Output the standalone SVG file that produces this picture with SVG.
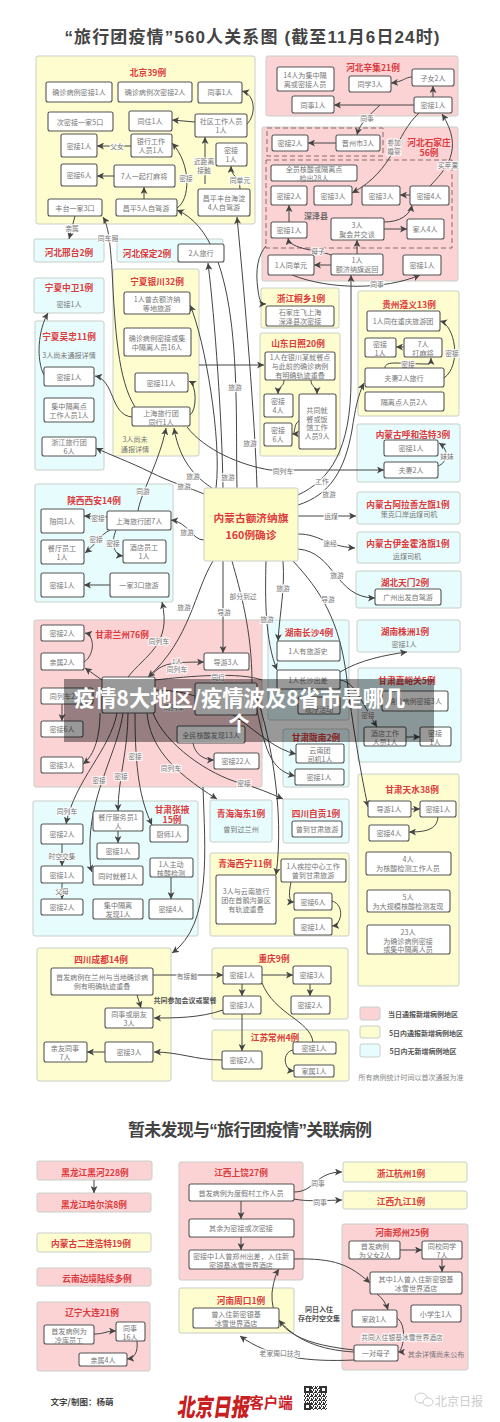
<svg xmlns="http://www.w3.org/2000/svg" width="500" height="1422" viewBox="0 0 500 1422">
<style>
text{font-family:"Noto Sans CJK SC","Noto Sans",sans-serif;text-anchor:middle;dominant-baseline:central}
.p{stroke:#c8cfc8;stroke-width:1;rx:2px}
.r{fill:#fcd3d5}.y{fill:#fdfdd0}.c{fill:#e6fcfd}
.h{font-size:8.7px;font-weight:700;fill:#dd3a3c}
.n{fill:#fff;stroke:#555;stroke-width:1.1;rx:2px}
.t{font-size:7.1px;fill:#777}
.e{fill:none;stroke:#444;stroke-width:1;marker-end:url(#a)}
.f{fill:none;stroke:#444;stroke-width:1}
.l{font-size:6.8px;fill:#777;paint-order:stroke;stroke:#fff;stroke-width:2px;stroke-opacity:.85}
.b{font-size:7px;font-weight:700;fill:#555}
.g{font-size:7px;fill:#888}
.d{fill:none;stroke:#8a6a6a;stroke-width:1;stroke-dasharray:5 3}
.m{font-family:"Liberation Sans","Noto Sans CJK SC",sans-serif;font-size:17px;font-weight:700;fill:#444}
</style>
<defs>
<marker id="a" markerUnits="userSpaceOnUse" markerWidth="7" markerHeight="7" viewBox="0 0 8 8" refX="8" refY="4" orient="auto"><path d="M0 0L8 4L0 8L2 4z" fill="#444"/></marker>
<pattern id="q" width="4" height="4" patternUnits="userSpaceOnUse"><path d="M0 0h1v1H0zM2 0h2v1H2zM1 1h1v2H1zM3 2h1v2H3zM0 3h1v1H0z" fill="#333"/></pattern>
</defs>
<rect width="500" height="1422" fill="#fff"/>
<text class="m" x="252" y="37" textLength="375" lengthAdjust="spacing">“旅行团疫情”560人关系图 (截至11月6日24时)</text>
<text class="m" x="250" y="1130" textLength="244" lengthAdjust="spacing">暂未发现与“旅行团疫情”关联病例</text>

<g id="panels">
<g id="p-bj"><rect class="p y" x="36" y="56" width="219" height="168"/><text class="h" x="148" y="72">北京39例</text></g>
<g id="p-xj"><rect class="p r" x="266" y="56" width="192" height="60"/><text class="h" x="373" y="67">河北辛集21例</text></g>
<g id="p-sjz"><rect class="p r" x="262" y="127" width="196" height="154"/><text class="h" x="429" y="142">河北石家庄</text><text class="h" x="429" y="152">56例</text><rect class="d" x="267" y="128" width="116" height="28"/><rect class="d" x="266" y="160" width="186" height="88"/><text x="316" y="215" font-size="8" font-weight="700" fill="#666">深泽县</text></g>
<g id="p-xt"><rect class="p c" x="34" y="239" width="70" height="23"/><text class="h" x="69" y="252">河北邢台2例</text></g>
<g id="p-bd"><rect class="p c" x="117" y="239" width="106" height="23"/><text class="h" x="147" y="253">河北保定2例</text></g>
<g id="p-zw"><rect class="p c" x="34" y="278" width="70" height="35"/><text class="h" x="69" y="287">宁夏中卫1例</text><text class="t" x="69" y="304">密接1人</text></g>
<g id="p-wz"><rect class="p c" x="35" y="321" width="69" height="149"/><text class="h" x="69" y="336">宁夏吴忠11例</text><text class="t" x="69" y="355">3人尚未通报详情</text></g>
<g id="p-yc"><rect class="p y" x="113" y="269" width="86" height="187"/><text class="h" x="157" y="281">宁夏银川32例</text><text class="t" x="135" y="439">3人尚未</text><text class="t" x="135" y="449">通报详情</text></g>
<g id="p-tx"><rect class="p y" x="261" y="288" width="78" height="40"/><text class="h" x="301" y="298">浙江桐乡1例</text></g>
<g id="p-rz"><rect class="p y" x="260" y="333" width="80" height="123"/><text class="h" x="298" y="343">山东日照20例</text></g>
<g id="p-zy"><rect class="p y" x="358" y="291" width="101" height="125"/><text class="h" x="409" y="304">贵州遵义13例</text></g>
<g id="p-hh"><rect class="p c" x="357" y="424" width="103" height="58"/><text class="h" x="413" y="434">内蒙古呼和浩特3例</text></g>
<g id="p-alsz"><rect class="p c" x="357" y="492" width="103" height="32"/><text class="h" x="408" y="504">内蒙古阿拉善左旗1例</text><text class="t" x="409" y="514">策克口岸运煤司机</text></g>
<g id="p-yjhl"><rect class="p c" x="357" y="532" width="103" height="31"/><text class="h" x="408" y="543">内蒙古伊金霍洛旗1例</text><text class="t" x="407" y="556">运煤司机</text></g>
<g id="p-tm"><rect class="p c" x="356" y="571" width="105" height="37"/><text class="h" x="405" y="582">湖北天门2例</text></g>
<g id="p-zz"><rect class="p c" x="357" y="620" width="103" height="32"/><text class="h" x="405" y="631">湖南株洲1例</text><text class="t" x="404" y="644">密接1人</text></g>
<g id="p-xa"><rect class="p c" x="35" y="484" width="138" height="118"/><text class="h" x="94" y="500">陕西西安14例</text></g>
<g id="p-lz"><rect class="p r" x="34" y="620" width="228" height="167"/><text class="h" x="122" y="634">甘肃兰州76例</text></g>
<g id="p-cs"><rect class="p c" x="268" y="620" width="81" height="100"/><text class="h" x="309" y="632">湖南长沙4例</text></g>
<g id="p-jyg"><rect class="p c" x="358" y="668" width="103" height="94"/><text class="h" x="407" y="680">甘肃嘉峪关5例</text></g>
<g id="p-ln"><rect class="p c" x="283" y="729" width="66" height="58"/><text class="h" x="316" y="737">甘肃陇南2例</text></g>
<g id="p-zg"><rect class="p c" x="283" y="799" width="66" height="44"/><text class="h" x="316" y="813">四川自贡1例</text></g>
<g id="p-ts"><rect class="p y" x="358" y="774" width="101" height="212"/><text class="h" x="412" y="789">甘肃天水38例</text></g>
<g id="p-xn"><rect class="p y" x="210" y="853" width="139" height="83"/><text class="h" x="245" y="863">青海西宁11例</text></g>
<g id="p-hd"><rect class="p c" x="210" y="800" width="62" height="42"/><text class="h" x="241" y="813">青海海东1例</text><text class="t" x="241" y="829">曾到过兰州</text></g>
<g id="p-zhy"><rect class="p c" x="33" y="801" width="165" height="135"/><text class="h" x="172" y="809">甘肃张掖</text><text class="h" x="172" y="819">15例</text></g>
<g id="p-cd"><rect class="p y" x="37" y="948" width="134" height="133"/><text class="h" x="101" y="959">四川成都14例</text></g>
<g id="p-cq"><rect class="p y" x="212" y="948" width="136" height="71"/><text class="h" x="274" y="958">重庆9例</text></g>
<g id="p-cz"><rect class="p y" x="212" y="1030" width="137" height="51"/><text class="h" x="275" y="1037">江苏常州4例</text></g>
<g id="p-hhe"><rect class="p r" x="37" y="1161" width="115" height="19"/><text class="h" x="95" y="1172">黑龙江黑河228例</text></g>
<g id="p-heb"><rect class="p r" x="37" y="1193" width="114" height="19"/><text class="h" x="94" y="1204">黑龙江哈尔滨8例</text></g>
<g id="p-el"><rect class="p y" x="37" y="1233" width="114" height="19"/><text class="h" x="91" y="1243">内蒙古二连浩特19例</text></g>
<g id="p-yn"><rect class="p r" x="37" y="1268" width="114" height="18"/><text class="h" x="97" y="1278">云南边境陆续多例</text></g>
<g id="p-dl"><rect class="p r" x="37" y="1302" width="113" height="69"/><text class="h" x="92" y="1312">辽宁大连21例</text></g>
<g id="p-sr"><rect class="p r" x="179" y="1162" width="124" height="118"/><text class="h" x="241" y="1172">江西上饶27例</text></g>
<g id="p-zk"><rect class="p y" x="179" y="1288" width="115" height="45"/><text class="h" x="241" y="1300">河南周口1例</text></g>
<g id="p-hz"><rect class="p y" x="343" y="1162" width="124" height="20"/><text class="h" x="401" y="1173">浙江杭州1例</text></g>
<g id="p-jj"><rect class="p y" x="343" y="1191" width="124" height="18"/><text class="h" x="401" y="1201">江西九江1例</text></g>
<g id="p-zhz"><rect class="p r" x="342" y="1224" width="126" height="146"/><text class="h" x="402" y="1232">河南郑州25例</text></g>
</g>

<g id="connectors">
<path class="e" d="M195 122L172 120"/><path class="e" d="M247 124C256 115,256 95,242 91"/><path class="e" d="M131 146H97"/><path class="e" d="M114 176H97"/><path class="e" d="M144 199V187"/><path class="e" d="M177 208C190 200,192 165,172 143"/><path class="e" d="M205 184V137"/><path class="e" d="M240 189C240 175,231 178,231 166"/><path class="e" d="M75 216L69 239"/>
<path class="e" d="M135 407C118 380,115 330,112 270C110 240,108 225,103 217"/>
<path class="e" d="M223 488C222 420,215 320,208 263"/>
<path class="e" d="M237 488C235 400,245 240,177 210"/>
<path class="e" d="M257 488C255 420,245 300,237 217"/>
<path class="e" d="M266 246C258 255,255 270,258 290C259 298,260 304,266 304"/>
<path class="e" d="M199 365H264"/>
<path class="e" d="M216 488C222 440,205 340,190 305"/>
<path class="e" d="M138 511C140 495,160 460,166 428"/>
<path class="e" d="M212 488C200 480,180 465,174 428"/>
<path class="e" d="M190 415C197 410,197 385,189 381"/>
<path class="e" d="M132 417C110 415,115 380,95 376"/>
<path class="e" d="M44 375C36 360,38 330,48 313"/>
<path class="e" d="M204 494C190 488,170 482,150 472C130 462,110 455,96 448"/>
<path class="e" d="M187 427C205 450,240 465,270 470H384"/>
<path class="e" d="M298 495C330 480,351 450,351 380V275"/>
<path class="e" d="M298 505C330 495,345 470,352 430C355 410,358 395,364 383"/>
<path class="e" d="M298 516H356"/>
<path class="e" d="M298 534C320 534,325 546,355 548"/>
<path class="e" d="M298 549C335 552,335 598,375 598"/>
<path class="e" d="M293 561C320 590,340 620,347 680C352 720,360 770,368 807"/>
<path class="e" d="M283 561C285 590,280 610,278 641"/>
<path class="e" d="M266 561C265 600,265 640,277 670"/>
<path class="f" d="M232 561C240 590,252 630,252 683"/>
<path class="e" d="M223 561V653"/>
<path class="e" d="M213 561C195 590,190 640,148 677"/>
<path class="e" d="M128 677C145 655,172 645,162 602"/>
<path class="e" d="M204 540C192 540,188 522,171 520"/>
<path class="e" d="M150 677C160 665,165 662,204 662"/>
<path class="e" d="M84 662C95 655,95 635,85 633"/>
<path class="e" d="M102 680L85 668"/>
<path class="f" d="M155 680C190 676,240 672,262 680"/>
<path class="e" d="M340 672C360 660,385 655,407 652"/>
<path class="e" d="M340 680C355 682,360 700,377 727"/>
<path class="e" d="M406 737H420"/>
<path class="e" d="M100 713C100 735,95 755,83 764"/>
<path class="e" d="M117 713C110 750,75 780,66 824"/>
<path class="e" d="M123 713C118 750,92 790,90 840C90 860,90 866,92 872"/>
<path class="e" d="M128 713C128 750,118 780,118 811"/>
<path class="e" d="M135 713C135 770,140 800,152 825"/>
<path class="e" d="M147 713C150 745,170 770,217 799"/>
<path class="e" d="M153 713C165 745,210 775,240 783C255 787,270 793,283 799"/>
<path class="e" d="M203 787C205 850,212 925,172 953"/>
<path class="e" d="M193 743C195 755,205 760,214 760"/>
<path class="e" d="M62 704V721"/>
<path class="e" d="M155 690C230 690,255 745,296 754"/>
<path class="e" d="M255 700C265 750,270 770,295 776"/>
<path class="e" d="M252 683C270 730,285 810,276 875"/>
<path class="e" d="M107 517L84 516"/><path class="e" d="M110 530C100 535,95 545,85 553"/><path class="e" d="M116 530C110 545,115 555,123 556"/><path class="e" d="M110 585H84"/>
<path class="e" d="M62 844V866"/><path class="e" d="M62 883V899"/><path class="e" d="M118 831V843"/><path class="e" d="M171 877V899"/>
<path class="e" d="M291 882C289 892,288 902,294 902"/><path class="e" d="M332 901C345 905,342 925,332 926"/>
<path class="e" d="M411 809H420"/><path class="e" d="M438 817C437 830,425 832,409 832"/>
<path class="e" d="M444 378C462 365,455 325,440 321"/><path class="e" d="M404 347H396"/><path class="e" d="M385 368C385 360,400 364,428 364Q431 364,431 358"/>
<path class="e" d="M438 466C447 463,450 450,439 443"/>
<path class="e" d="M284 380C284 388,278 385,278 394"/><path class="e" d="M311 380C311 388,317 385,317 394"/><path class="e" d="M299 421C293 424,296 434,292 434"/>
<path class="e" d="M414 105H334"/><path class="e" d="M433 97V86"/><path class="e" d="M412 77C405 77,403 82,391 83"/>
<path class="e" d="M380 105C370 115,360 122,357 135"/><path class="e" d="M419 113C395 135,395 170,352 193"/><path class="e" d="M336 143H308"/>
<path class="e" d="M430 186C445 170,465 150,442 114"/><path class="e" d="M410 195H400"/><path class="e" d="M384 222C400 222,410 215,412 205"/><path class="e" d="M384 229H407"/>
<path class="e" d="M357 254V240"/><path class="e" d="M331 265H314"/><path class="e" d="M331 255C320 250,290 250,288 238"/><path class="e" d="M289 222V205"/><path class="e" d="M292 275C330 290,385 290,420 275"/>
<path class="e" d="M262 975H293"/><path class="e" d="M242 984V996"/><path class="e" d="M310 984V996"/><path class="e" d="M153 975H223"/><path class="e" d="M137 995L141 1008"/><path class="e" d="M223 1010C200 1018,175 1018,154 1018"/><path class="e" d="M242 1014V1051"/><path class="e" d="M222 1060C195 1060,180 1052,154 1052"/><path class="e" d="M105 1052H87"/><path class="f" d="M262 983C275 1015,310 1020,313 1042"/><path class="e" d="M293 1050C282 1052,283 1070,294 1071"/>
<path class="e" d="M94 1180V1193"/><path class="e" d="M94 1334C105 1334,105 1331,116 1331"/><path class="e" d="M137 1341C138 1352,135 1358,127 1359"/>
<path class="e" d="M241 1201V1219"/><path class="e" d="M241 1237V1250"/><path class="e" d="M294 1192C315 1192,315 1172,342 1172"/><path class="e" d="M294 1199C305 1201,310 1201,342 1200"/><path class="e" d="M294 1259C335 1258,350 1265,370 1283"/>
<path class="e" d="M400 1250H422"/><path class="e" d="M442 1259V1272"/><path class="e" d="M377 1294Q385 1300,388 1310"/><path class="e" d="M397 1318C408 1325,403 1352,398 1352"/><path class="e" d="M354 1352C320 1350,295 1340,279 1320"/><path class="e" d="M354 1360C310 1362,270 1358,240 1336"/><path class="e" d="M354 1350C310 1345,270 1335,272 1293C273 1285,275 1275,279 1269"/>
<g id="edge-labels">
<text class="l" x="117" y="146">父女</text><text class="l" x="186" y="178">密接</text><text class="l" x="204" y="161">近距离</text><text class="l" x="204" y="170">接触</text><text class="l" x="240" y="180">同单元</text><text class="l" x="72" y="228">亲属</text><text class="l" x="108" y="238">同车厢</text>
<text class="l" x="228" y="477">旅游</text><text class="l" x="235" y="387">旅游</text><text class="l" x="250" y="443">旅游</text><text class="l" x="193" y="476">旅游</text><text class="l" x="143" y="491">同游</text><text class="l" x="184" y="486">旅游</text><text class="l" x="187" y="532">旅游</text><text class="l" x="283" y="471">同列车</text><text class="l" x="322" y="481">工作</text><text class="l" x="329" y="494">旅游</text><text class="l" x="331" y="516">运煤</text><text class="l" x="330" y="543">途经</text><text class="l" x="337" y="575">旅游</text><text class="l" x="328" y="599">导游</text><text class="l" x="283" y="588">旅游</text><text class="l" x="267" y="619">旅游</text><text class="l" x="243" y="596">部分到过</text><text class="l" x="224" y="612">导游</text><text class="l" x="184" y="607">旅游</text><text class="l" x="159" y="641">同列车</text><text class="l" x="177" y="661">1人</text><text class="l" x="177" y="669">同列车</text><text class="l" x="218" y="677">同行</text><text class="l" x="174" y="707">同列车</text><text class="l" x="368" y="715">密接</text>
<text class="l" x="98" y="518">密接</text><text class="l" x="96" y="539">密接</text><text class="l" x="113" y="543">密接</text>
<text class="l" x="67" y="811">同列车</text><text class="l" x="99" y="780">密接</text><text class="l" x="121" y="776">密接</text><text class="l" x="135" y="756">密接</text><text class="l" x="171" y="768">同列车</text><text class="l" x="244" y="783">密接</text><text class="l" x="62" y="856">时空交集</text><text class="l" x="62" y="891">父母</text>
<text class="l" x="452" y="353">密接</text><text class="l" x="408" y="364">密接</text><text class="l" x="447" y="456">妹妹</text>
<text class="l" x="367" y="118">同事</text><text class="l" x="394" y="142">参加</text><text class="l" x="394" y="151">婚宴</text><text class="l" x="448" y="165">买苹果</text><text class="l" x="318" y="251">母子</text><text class="l" x="377" y="284">同事</text>
<text class="l" x="187" y="976">有接触</text><text class="b" x="185" y="1000">共同参加会议或聚餐</text>
<text class="l" x="318" y="1183">同事</text><text class="l" x="320" y="1202">同事</text><text class="l" x="280" y="1353">老家周口扶沟</text><text class="b" x="319" y="1309">同日入住</text><text class="b" x="319" y="1318">存在时空交集</text><text class="l" x="402" y="1337">共同入住银基冰雪世界酒店</text><text class="t" x="436" y="1354">其余详情尚未公布</text>
</g>
</g>

<g id="nodes">
<g id="n1"><rect class="n" x="46" y="82" width="66" height="20"/><text class="t" x="79" y="92">确诊病例密接1人</text></g>
<g id="n2"><rect class="n" x="118" y="82" width="74" height="20"/><text class="t" x="155" y="92">确诊病例次密接2人</text></g>
<g id="n3"><rect class="n" x="198" y="82" width="44" height="21"/><text class="t" x="220" y="92">同事1人</text></g>
<g id="n4"><rect class="n" x="48" y="112" width="65" height="19"/><text class="t" x="80" y="122">次密接一家5口</text></g>
<g id="n5"><rect class="n" x="129" y="111" width="43" height="20"/><text class="t" x="150" y="121">同住1人</text></g>
<g id="n6"><rect class="n" x="195" y="114" width="52" height="23"/><text class="t" x="221" y="121">社区工作人员<tspan x="221" dy="9">1人</tspan></text></g>
<g id="n7"><rect class="n" x="61" y="134" width="36" height="23"/><text class="t" x="79" y="146">密接1人</text></g>
<g id="n8"><rect class="n" x="131" y="134" width="41" height="23"/><text class="t" x="151" y="141">银行工作<tspan x="151" dy="9">人员1人</tspan></text></g>
<g id="n9"><rect class="n" x="216" y="143" width="31" height="23"/><text class="t" x="231" y="150">密接<tspan x="231" dy="9">1人</tspan></text></g>
<g id="n10"><rect class="n" x="61" y="164" width="36" height="22"/><text class="t" x="79" y="175">密接6人</text></g>
<g id="n11"><rect class="n" x="114" y="165" width="61" height="22"/><text class="t" x="144" y="176">7人一起打麻将</text></g>
<g id="n12"><rect class="n" x="48" y="199" width="54" height="17"/><text class="t" x="75" y="208">丰台一家3口</text></g>
<g id="n13"><rect class="n" x="116" y="199" width="61" height="17"/><text class="t" x="146" y="208">昌平5人自驾游</text></g>
<g id="n14"><rect class="n" x="198" y="189" width="52" height="27"/><text class="t" x="224" y="198">昌平丰台海淀<tspan x="224" dy="9">4人自驾游</tspan></text></g>
<g id="n15"><rect class="n" x="178" y="244" width="46" height="18"/><text class="t" x="201" y="253">2人旅行</text></g>
<g id="n16"><rect class="n" x="277" y="67" width="57" height="24"/><text class="t" x="305" y="75">14人为集中隔<tspan x="305" dy="9">离或密接人员</tspan></text></g>
<g id="n17"><rect class="n" x="349" y="76" width="42" height="16"/><text class="t" x="370" y="84">同学3人</text></g>
<g id="n18"><rect class="n" x="412" y="69" width="42" height="17"/><text class="t" x="433" y="78">子女2人</text></g>
<g id="n19"><rect class="n" x="292" y="96" width="42" height="17"/><text class="t" x="313" y="105">同事1人</text></g>
<g id="n20"><rect class="n" x="414" y="97" width="38" height="16"/><text class="t" x="433" y="105">密接1人</text></g>
<g id="n21"><rect class="n" x="272" y="135" width="36" height="16"/><text class="t" x="290" y="143">密接2人</text></g>
<g id="n22"><rect class="n" x="336" y="135" width="44" height="16"/><text class="t" x="358" y="143">晋州市3人</text></g>
<g id="n23"><rect class="n" x="271" y="165" width="86" height="16"/><text class="t" x="314" y="169">全员核酸或隔离点<tspan x="314" dy="9">检出28人</tspan></text></g>
<g id="n24"><rect class="n" x="271" y="186" width="36" height="19"/><text class="t" x="289" y="196">密接2人</text></g>
<g id="n25"><rect class="n" x="314" y="186" width="38" height="19"/><text class="t" x="333" y="196">密接3人</text></g>
<g id="n26"><rect class="n" x="362" y="186" width="38" height="19"/><text class="t" x="381" y="196">密接3人</text></g>
<g id="n27"><rect class="n" x="410" y="186" width="39" height="19"/><text class="t" x="429" y="196">密接4人</text></g>
<g id="n28"><rect class="n" x="271" y="222" width="36" height="16"/><text class="t" x="289" y="230">密接1人</text></g>
<g id="n29"><rect class="n" x="331" y="218" width="53" height="22"/><text class="t" x="357" y="225">3人<tspan x="357" dy="9">聚会并交谈</tspan></text></g>
<g id="n30"><rect class="n" x="407" y="219" width="37" height="20"/><text class="t" x="425" y="229">家人4人</text></g>
<g id="n31"><rect class="n" x="268" y="255" width="46" height="20"/><text class="t" x="291" y="265">1人同单元</text></g>
<g id="n32"><rect class="n" x="331" y="254" width="52" height="21"/><text class="t" x="357" y="260">1人<tspan x="357" dy="9">额济纳旗返回</tspan></text></g>
<g id="n33"><rect class="n" x="403" y="255" width="38" height="20"/><text class="t" x="422" y="265">密接1人</text></g>
<g id="n34"><rect class="n" x="44" y="367" width="50" height="19"/><text class="t" x="69" y="377">密接1人</text></g>
<g id="n35"><rect class="n" x="44" y="398" width="50" height="24"/><text class="t" x="69" y="406">集中隔离点<tspan x="69" dy="9">工作人员1人</tspan></text></g>
<g id="n36"><rect class="n" x="42" y="437" width="54" height="19"/><text class="t" x="69" y="442">浙江旅行团<tspan x="69" dy="9">6人</tspan></text></g>
<g id="n37"><rect class="n" x="124" y="292" width="66" height="22"/><text class="t" x="157" y="299">1人曾去额济纳<tspan x="157" dy="9">等地旅游</tspan></text></g>
<g id="n38"><rect class="n" x="124" y="328" width="67" height="28"/><text class="t" x="157" y="338">确诊病例密接或集<tspan x="157" dy="9">中隔离人员16人</tspan></text></g>
<g id="n39"><rect class="n" x="135" y="373" width="53" height="19"/><text class="t" x="161" y="383">密接11人</text></g>
<g id="n40"><rect class="n" x="132" y="407" width="58" height="19"/><text class="t" x="161" y="413">上海旅行团<tspan x="161" dy="9">同行1人</tspan></text></g>
<g id="n41"><rect class="n" x="266" y="306" width="68" height="20"/><text class="t" x="300" y="312">石家庄飞上海<tspan x="300" dy="9">深泽县次密接</tspan></text></g>
<g id="n42"><rect class="n" x="265" y="352" width="70" height="28"/><text class="t" x="300" y="357">1人在银川某就餐点<tspan x="300" dy="9">与此前的确诊病例</tspan><tspan x="300" dy="9">有明确轨迹重叠</tspan></text></g>
<g id="n43"><rect class="n" x="264" y="394" width="29" height="23"/><text class="t" x="278" y="401">密接<tspan x="278" dy="9">4人</tspan></text></g>
<g id="n44"><rect class="n" x="299" y="394" width="37" height="55"/><text class="t" x="317" y="410">共同就<tspan x="317" dy="8.5">餐或饭</tspan><tspan x="317" dy="8.5">馆工作</tspan><tspan x="317" dy="8.5">人员9人</tspan></text></g>
<g id="n45"><rect class="n" x="264" y="423" width="28" height="23"/><text class="t" x="278" y="430">密接<tspan x="278" dy="9">6人</tspan></text></g>
<g id="n46"><rect class="n" x="367" y="311" width="73" height="20"/><text class="t" x="403" y="321">1人同在重庆旅游团</text></g>
<g id="n47"><rect class="n" x="365" y="338" width="31" height="19"/><text class="t" x="380" y="344">密接<tspan x="380" dy="9">1人</tspan></text></g>
<g id="n48"><rect class="n" x="404" y="338" width="38" height="19"/><text class="t" x="423" y="344">7人<tspan x="423" dy="9">打麻将</tspan></text></g>
<g id="n49"><rect class="n" x="365" y="368" width="79" height="19"/><text class="t" x="404" y="378">夫妻2人旅行</text></g>
<g id="n50"><rect class="n" x="365" y="392" width="79" height="19"/><text class="t" x="404" y="402">隔离点人员2人</text></g>
<g id="n51"><rect class="n" x="384" y="440" width="54" height="16"/><text class="t" x="411" y="448">密接1人</text></g>
<g id="n52"><rect class="n" x="384" y="462" width="54" height="16"/><text class="t" x="411" y="470">夫妻2人</text></g>
<g id="n53"><rect class="n" x="375" y="589" width="66" height="16"/><text class="t" x="408" y="597">广州出发自驾游</text></g>
<g id="n54"><rect class="n" x="41" y="509" width="43" height="24"/><text class="t" x="62" y="521">陪同1人</text></g>
<g id="n55"><rect class="n" x="107" y="511" width="64" height="19"/><text class="t" x="139" y="521">上海旅行团7人</text></g>
<g id="n56"><rect class="n" x="41" y="540" width="43" height="24"/><text class="t" x="62" y="548">餐厅员工<tspan x="62" dy="9">1人</tspan></text></g>
<g id="n57"><rect class="n" x="123" y="540" width="43" height="23"/><text class="t" x="144" y="547">酒店员工<tspan x="144" dy="9">1人</tspan></text></g>
<g id="n58"><rect class="n" x="41" y="573" width="43" height="24"/><text class="t" x="62" y="585">密接1人</text></g>
<g id="n59"><rect class="n" x="110" y="573" width="59" height="24"/><text class="t" x="139" y="585">一家3口旅游</text></g>
<g id="n60"><rect x="204" y="488" width="94" height="73" fill="#fdfdc8" stroke="#c8cfc8" rx="2"/><text x="251" y="517" font-size="10.7" font-weight="700" fill="#dd3a3c">内蒙古额济纳旗</text><text x="251" y="534" font-size="10.7" font-weight="700" fill="#dd3a3c">160例确诊</text></g>
<g id="n61"><rect class="n" x="41" y="625" width="43" height="16"/><text class="t" x="62" y="633">密接2人</text></g>
<g id="n62"><rect class="n" x="41" y="653" width="43" height="17"/><text class="t" x="62" y="662">亲属2人</text></g>
<g id="n63"><rect class="n" x="204" y="653" width="45" height="17"/><text class="t" x="226" y="662">导游3人</text></g>
<g id="n64"><rect class="n" x="102" y="677" width="53" height="36"/></g>
<g id="n65"><rect class="n" x="41" y="688" width="52" height="16"/><text class="t" x="66" y="696">同列车2人</text></g>
<g id="n66"><rect class="n" x="41" y="721" width="42" height="16"/><text class="t" x="62" y="729">密接6人</text></g>
<g id="n67"><rect class="n" x="41" y="757" width="42" height="16"/><text class="t" x="62" y="765">密接3人</text></g>
<g id="n68"><rect class="n" x="195" y="683" width="62" height="32"/></g>
<g id="n69"><rect class="n" x="177" y="726" width="68" height="17"/><text class="t" x="211" y="735">全民核酸发现13人</text></g>
<g id="n70"><rect class="n" x="214" y="753" width="45" height="16"/><text class="t" x="236" y="761">密接22人</text></g>
<g id="n71"><rect class="n" x="277" y="641" width="63" height="20"/><text class="t" x="308" y="651">1人有旅游史</text></g>
<g id="n72"><rect class="n" x="277" y="670" width="63" height="19"/><text class="t" x="308" y="680">1人长沙出差</text></g>
<g id="n73"><rect class="n" x="298" y="697" width="42" height="17"/><text class="t" x="319" y="709">观摩活动</text></g>
<g id="n74"><rect class="n" x="382" y="691" width="66" height="20"/><text class="t" x="415" y="701">确诊病例密接3人</text></g>
<g id="n75"><rect class="n" x="364" y="727" width="42" height="19"/><text class="t" x="385" y="733">酒店工作<tspan x="385" dy="9">人员1人</tspan></text></g>
<g id="n76"><rect class="n" x="420" y="727" width="31" height="19"/><text class="t" x="435" y="733">密接<tspan x="435" dy="9">1人</tspan></text></g>
<g id="n77"><rect class="n" x="296" y="744" width="48" height="19"/><text class="t" x="320" y="750">云南团<tspan x="320" dy="9">司机1人</tspan></text></g>
<g id="n78"><rect class="n" x="295" y="769" width="49" height="16"/><text class="t" x="319" y="777">密接1人</text></g>
<g id="n79"><rect class="n" x="292" y="821" width="50" height="16"/><text class="t" x="317" y="829">曾到甘肃旅游</text></g>
<g id="n80"><rect class="n" x="368" y="801" width="43" height="16"/><text class="t" x="389" y="809">导游1人</text></g>
<g id="n81"><rect class="n" x="420" y="801" width="36" height="16"/><text class="t" x="438" y="809">密接1人</text></g>
<g id="n82"><rect class="n" x="369" y="825" width="40" height="16"/><text class="t" x="389" y="833">密接4人</text></g>
<g id="n83"><rect class="n" x="366" y="852" width="85" height="23"/><text class="t" x="408" y="859">4人<tspan x="408" dy="9">为核酸检测工作人员</tspan></text></g>
<g id="n84"><rect class="n" x="367" y="890" width="83" height="22"/><text class="t" x="408" y="897">5人<tspan x="408" dy="9">为大规模核酸检测发现</tspan></text></g>
<g id="n85"><rect class="n" x="367" y="925" width="83" height="29"/><text class="t" x="408" y="932">23人<tspan x="408" dy="8.5">为确诊病例密接</tspan><tspan x="408" dy="8.5">或集中隔离人员</tspan></text></g>
<g id="n86"><rect class="n" x="216" y="875" width="60" height="49"/><text class="t" x="246" y="891">3人与云南旅行<tspan x="246" dy="9">团在首鹅沟景区</tspan><tspan x="246" dy="9">有轨迹重叠</tspan></text></g>
<g id="n87"><rect class="n" x="281" y="859" width="65" height="23"/><text class="t" x="313" y="866">1人疾控中心工作<tspan x="313" dy="9">曾到甘肃旅游</tspan></text></g>
<g id="n88"><rect class="n" x="294" y="893" width="38" height="17"/><text class="t" x="313" y="902">密接6人</text></g>
<g id="n89"><rect class="n" x="294" y="918" width="38" height="17"/><text class="t" x="313" y="927">密接1人</text></g>
<g id="n90"><rect class="n" x="41" y="824" width="42" height="20"/><text class="t" x="62" y="834">密接2人</text></g>
<g id="n91"><rect class="n" x="41" y="866" width="42" height="17"/><text class="t" x="62" y="875">密接1人</text></g>
<g id="n92"><rect class="n" x="41" y="899" width="42" height="16"/><text class="t" x="62" y="907">密接2人</text></g>
<g id="n93"><rect class="n" x="93" y="811" width="50" height="20"/><text class="t" x="118" y="817">餐厅服务员1<tspan x="118" dy="9">人</tspan></text></g>
<g id="n94"><rect class="n" x="97" y="843" width="42" height="16"/><text class="t" x="118" y="851">密接1人</text></g>
<g id="n95"><rect class="n" x="93" y="866" width="50" height="19"/><text class="t" x="118" y="876">同时就餐1人</text></g>
<g id="n96"><rect class="n" x="93" y="899" width="50" height="20"/><text class="t" x="118" y="905">集中隔离<tspan x="118" dy="9">发现1人</tspan></text></g>
<g id="n97"><rect class="n" x="150" y="825" width="38" height="17"/><text class="t" x="169" y="834">厨师1人</text></g>
<g id="n98"><rect class="n" x="150" y="858" width="43" height="19"/><text class="t" x="171" y="864">1人主动<tspan x="171" dy="9">核酸检测</tspan></text></g>
<g id="n99"><rect class="n" x="149" y="899" width="44" height="20"/><text class="t" x="171" y="909">密接4人</text></g>
<g id="n100"><rect class="n" x="51" y="968" width="102" height="27"/><text class="t" x="102" y="977">首发病例在兰州与当地确诊病<tspan x="102" dy="9">例有明确轨迹重叠</tspan></text></g>
<g id="n101"><rect class="n" x="105" y="1008" width="48" height="20"/><text class="t" x="129" y="1014">同事或朋友<tspan x="129" dy="9">3人</tspan></text></g>
<g id="n102"><rect class="n" x="44" y="1042" width="43" height="20"/><text class="t" x="65" y="1048">亲友同事<tspan x="65" dy="9">7人</tspan></text></g>
<g id="n103"><rect class="n" x="105" y="1042" width="48" height="20"/><text class="t" x="129" y="1052">密接3人</text></g>
<g id="n104"><rect class="n" x="223" y="966" width="39" height="18"/><text class="t" x="242" y="975">密接1人</text></g>
<g id="n105"><rect class="n" x="293" y="966" width="38" height="18"/><text class="t" x="312" y="975">密接3人</text></g>
<g id="n106"><rect class="n" x="223" y="996" width="38" height="18"/><text class="t" x="242" y="1005">密接3人</text></g>
<g id="n107"><rect class="n" x="291" y="996" width="39" height="18"/><text class="t" x="310" y="1005">密接2人</text></g>
<g id="n108"><rect class="n" x="222" y="1051" width="40" height="18"/><text class="t" x="242" y="1060">密接2人</text></g>
<g id="n109"><rect class="n" x="293" y="1042" width="43" height="12"/><text class="t" x="314" y="1048">密接1人</text></g>
<g id="n110"><rect class="n" x="294" y="1065" width="40" height="12"/><text class="t" x="314" y="1071">家属1人</text></g>
<g id="n111"><rect class="n" x="44" y="1325" width="50" height="19"/><text class="t" x="69" y="1331">首发病例为<tspan x="69" dy="9">冷库员工</tspan></text></g>
<g id="n112"><rect class="n" x="116" y="1322" width="29" height="19"/><text class="t" x="130" y="1328">同事<tspan x="130" dy="9">16人</tspan></text></g>
<g id="n113"><rect class="n" x="79" y="1353" width="48" height="13"/><text class="t" x="103" y="1360">亲属4人</text></g>
<g id="n114"><rect class="n" x="189" y="1184" width="105" height="17"/><text class="t" x="241" y="1193">首发病例为度假村工作人员</text></g>
<g id="n115"><rect class="n" x="189" y="1219" width="105" height="18"/><text class="t" x="241" y="1228">其余为密接或次密接</text></g>
<g id="n116"><rect class="n" x="189" y="1250" width="105" height="19"/><text class="t" x="241" y="1256">密接中1人曾郑州出差，入住新<tspan x="241" dy="9">密银基冰雪世界酒店</tspan></text></g>
<g id="n117"><rect class="n" x="193" y="1308" width="86" height="20"/><text class="t" x="236" y="1314">曾入住新密银基<tspan x="236" dy="9">冰雪世界酒店</tspan></text></g>
<g id="n118"><rect class="n" x="349" y="1241" width="51" height="18"/><text class="t" x="375" y="1246">首发病例<tspan x="375" dy="9">为父女2人</tspan></text></g>
<g id="n119"><rect class="n" x="422" y="1241" width="40" height="18"/><text class="t" x="442" y="1246">同校同学<tspan x="442" dy="9">7人</tspan></text></g>
<g id="n120"><rect class="n" x="370" y="1272" width="92" height="22"/><text class="t" x="416" y="1279">其中1人曾入住新密银基<tspan x="416" dy="9">冰雪世界酒店</tspan></text></g>
<g id="n121"><rect class="n" x="352" y="1310" width="45" height="17"/><text class="t" x="374" y="1319">家政1人</text></g>
<g id="n122"><rect class="n" x="411" y="1305" width="50" height="17"/><text class="t" x="436" y="1314">小学生1人</text></g>
<g id="n123"><rect class="n" x="354" y="1345" width="44" height="16"/><text class="t" x="376" y="1353">一对母子</text></g>
</g>

<g id="legend">
<rect class="p r" x="360" y="1007" width="20" height="13"/><rect class="p y" x="360" y="1026" width="20" height="12"/><rect class="p c" x="360" y="1044" width="20" height="13"/>
<text class="b" x="423" y="1014">当日通报新增病例地区</text><text class="b" x="426" y="1033">5日内通报新增病例地区</text><text class="b" x="423" y="1051">5日内无新增病例地区</text>
<text class="g" x="411" y="1077">所有病例统计时间以首次通报为准</text>
</g>

<g id="footer">
<text x="82" y="1401" font-size="8.5" font-weight="700" fill="#444">文字/制图：杨萌</text>
<text x="215" y="1404" font-size="18" font-weight="900" fill="#c8201f" transform="translate(215 1400) skewX(-8) scale(1 1.35) translate(-215 -1400)">北京日报</text>
<text x="271" y="1401" font-size="14.5" font-weight="700" fill="#c8201f">客户端</text>
<rect x="304" y="1386" width="23" height="24" fill="url(#q)"/>
<path d="M304 1386h7v7h-7zM320 1386h7v7h-7zM304 1403h7v7h-7z" fill="#333"/>
<path d="M306 1388h3v3h-3zM322 1388h3v3h-3zM306 1405h3v3h-3z" fill="#fff"/>
<ellipse cx="421" cy="1398" rx="6" ry="5" fill="#fff" stroke="#ccc"/><ellipse cx="428" cy="1402" rx="5" ry="4" fill="#fff" stroke="#ccc"/>
<text x="459" y="1400" font-size="12" fill="#ccc">北京日报</text>
</g>

<g id="banner">
<rect x="64" y="679" width="370" height="63" fill="#000" fill-opacity=".4"/>
<text x="239.500" y="696" font-size="21.3" font-weight="700" fill="#fff">疫情8大地区/疫情波及8省市是哪几</text>
<text x="239" y="722" font-size="21" font-weight="700" fill="#fff">个</text>
</g>
</svg>
